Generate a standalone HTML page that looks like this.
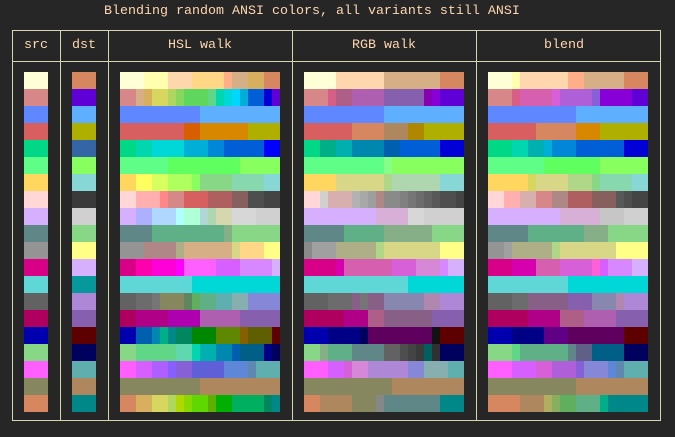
<!DOCTYPE html>
<html><head><meta charset="utf-8"><style>
html,body{margin:0;padding:0;background:#262626;width:675px;height:437px;overflow:hidden;position:relative;font-family:"Liberation Mono",monospace;font-size:13.33px;}
.t{position:absolute;color:#ffd7af;white-space:pre;}
.b{position:absolute;background:#d7d7af;}
.row{position:absolute;height:17px;display:flex;}
.row div{height:17px;}
</style></head><body>
<div class="t" style="left:104px;top:4px;">Blending random ANSI colors, all variants still ANSI</div>
<div class="b" style="left:12px;top:30px;width:649px;height:1px"></div>
<div class="b" style="left:12px;top:61px;width:649px;height:1px"></div>
<div class="b" style="left:12px;top:420px;width:649px;height:1px"></div>
<div class="b" style="left:12px;top:30px;width:1px;height:391px"></div>
<div class="b" style="left:60px;top:30px;width:1px;height:391px"></div>
<div class="b" style="left:108px;top:30px;width:1px;height:391px"></div>
<div class="b" style="left:292px;top:30px;width:1px;height:391px"></div>
<div class="b" style="left:476px;top:30px;width:1px;height:391px"></div>
<div class="b" style="left:660px;top:30px;width:1px;height:391px"></div>
<div class="t" style="left:24px;top:38px;">src</div>
<div class="t" style="left:72px;top:38px;">dst</div>
<div class="t" style="left:168px;top:38px;">HSL walk</div>
<div class="t" style="left:352px;top:38px;">RGB walk</div>
<div class="t" style="left:544px;top:38px;">blend</div>
<div id="g"></div>
<script>
var src="ffffd7 d78787 5f87ff d75f5f 00d787 5fff87 ffd75f ffd7d7 d7afff 5f8787 949494 d70087 5fd7d7 626262 af005f 0000af 87d787 ff5fff 87875f d7875f".split(" ");
var dst="d7875f 5f00d7 5fafff afaf00 3465a4 87ff5f 87d7d7 3a3a3a d0d0d0 87d787 ffff87 d7afff 06989a af87d7 875faf 5f0000 00005f 5fafaf af875f 008787".split(" ");
var H=["ffffd7:3 ffffaf:3 ffd7af:3 ffd787:4 ffaf87:1 d7af87:2 d7af5f:2 d7875f:2",
"d78787:2 d7af87:1 d7af5f:1 d7d75f:2 afd75f:1 87d75f:1 5fd75f:3 5fd787:1 00d7af:1 00d7d7:1 00d7ff:1 00afd7:1 005fd7:2 0000d7:1 5f00d7:1",
"5f87ff:10 5fafff:10",
"d75f5f:8 d75f00:2 d78700:6 afaf00:4",
"00d787:2 00d7af:2 00d7d7:4 00afd7:3 0087d7:2 005fd7:5 0000ff:2",
"5fff87:6 5fff5f:9 87ff5f:5",
"ffd75f:2 ffff5f:2 d7ff5f:2 afff5f:3 87ff5f:1 87d787:4 87d7af:4 87d7d7:2",
"ffd7d7:2 ffafaf:3 ff8787:1 d78787:2 d75f5f:3 af5f5f:3 875f5f:2 4e4e4e:2 444444:2",
"d7afff:2 afafff:2 afd7ff:3 afffff:1 afffd7:2 afd7d7:1 afd7af:1 d7d7af:2 d7d7d7:3 d0d0d0:3",
"5f8787:4 5faf87:9 87af87:1 87d787:6",
"949494:3 af8787:4 afaf87:1 d7af87:6 d7d787:1 ffd787:3 ffff87:2",
"d70087:2 ff00af:2 ff00d7:3 ff00ff:1 ff5fff:4 d75fff:3 d787ff:4 d7afff:1",
"5fd7d7:9 00d7d7:11",
"626262:2 6c6c6c:2 767676:1 87875f:3 5f875f:1 5faf5f:1 5faf87:2 5fafaf:2 87afaf:2 8787d7:4",
"af005f:2 af0087:4 af00af:4 af5faf:5 875faf:5",
"0000af:2 005faf:2 0087af:1 00af87:1 008787:1 00875f:2 008700:3 5f8700:3 875f00:1 5f5f00:3 5f0000:1",
"87d787:2 5fd787:5 5fd7af:2 00d7af:1 00afaf:2 0087af:2 005faf:1 005f87:3 000087:1 00005f:1",
"ff5fff:2 d75fff:2 af5fff:2 875fff:1 875fd7:2 5f5fd7:4 5f87d7:3 5f87af:1 5fafaf:3",
"87875f:10 af875f:10",
"d7875f:2 d7af5f:2 d7d75f:2 afd75f:1 afd700:1 87d700:1 5fd700:2 5faf00:1 00af00:2 00af5f:4 00875f:1 008787:1"];
var R=["ffffd7:4 ffd7af:6 d7af87:7 d7875f:3",
"d78787:3 d75f87:1 af5f87:2 af5faf:4 875faf:5 8700af:1 8700d7:1 5f00d7:3",
"5f87ff:10 5fafff:10",
"d75f5f:6 d7875f:4 af875f:3 af8700:2 afaf00:5",
"00d787:2 00af87:2 00afaf:2 0087af:4 005faf:2 005fd7:5 0000d7:3",
"5fff87:10 87ff87:1 87ff5f:9",
"ffd75f:4 d7d787:6 afd787:1 afd7af:6 87d7d7:3",
"ffd7d7:2 d0d0d0:1 d7afaf:3 b2b2b2:1 a8a8a8:1 9e9e9e:1 af8787:1 8a8a8a:2 808080:1 767676:1 6c6c6c:1 626262:1 585858:1 4e4e4e:2 444444:1",
"d7afff:9 d7afd7:4 d7d7d7:2 d0d0d0:5",
"5f8787:5 5faf87:5 87af87:6 87d787:4",
"8a8a8a:1 a0a0a0:3 afaf87:5 afd787:1 d7d787:7 ffff87:3",
"d70087:4 d700af:1 d75faf:6 d75fd7:3 d787d7:3 d787ff:1 d7afff:2",
"5fd7d7:13 00d7d7:7",
"626262:3 6c6c6c:3 875f87:1 767676:1 875f87:2 8787af:5 af87af:2 af87d7:3",
"af005f:5 af0087:3 af5f87:2 875f87:6 875faf:4",
"0000af:3 000087:4 00005f:1 5f005f:8 121212:1 5f0000:3",
"87d787:2 87af87:1 5faf87:3 5f8787:4 626262:2 4e4e4e:1 444444:1 3a3a3a:1 005f5f:1 303030:1 00005f:3",
"ff5fff:3 d75fff:2 d75fd7:1 d787d7:2 af87d7:5 8787d7:2 87afaf:3 5fafaf:2",
"87875f:11 af875f:9",
"d7875f:2 af875f:4 87875f:3 878787:1 5f8787:7 008787:3"];
var B=["ffffd7:3 ffffaf:1 ffd7af:6 ffaf87:2 d7af87:5 d7875f:3",
"d78787:3 d75f87:1 d75faf:4 d75fd7:1 af5fd7:4 875fd7:1 8700d7:4 5f00d7:2",
"5f87ff:11 5fafff:9",
"d75f5f:6 d7875f:5 d78700:3 afaf00:6",
"00d787:3 00d7af:2 00afaf:2 00afd7:1 0087d7:3 005fd7:6 0000d7:3",
"5fff87:7 5fff5f:7 87ff5f:6",
"ffd75f:5 d7d75f:1 d7d787:4 afd787:3 87d787:1 87d7af:4 87d7d7:2",
"ffd7d7:2 ffafaf:2 d7afaf:2 d78787:2 af8787:2 af5f5f:3 875f5f:3 585858:1 4e4e4e:1 444444:2",
"d7afff:9 d7afd7:5 c6c6c6:3 d0d0d0:3",
"5f8787:5 5faf87:7 87af87:3 87d787:5",
"949494:2 a0a0a0:1 afaf87:5 afd787:1 d7d787:7 ffff87:4",
"d70087:3 d700af:3 d75faf:3 d75fd7:4 ff5fd7:1 d75fff:1 d787ff:3 d7afff:2",
"5fd7d7:10 00d7d7:10",
"626262:3 6c6c6c:2 875f87:5 875faf:3 8787af:3 af87af:1 af87d7:3",
"af005f:5 af0087:4 af5f87:3 af5faf:4 875faf:4",
"0000af:3 000087:4 5f0087:3 5f005f:7 5f0000:3",
"87d787:3 5fd787:1 5faf87:6 5f8787:1 5f5f87:2 005f87:4 00005f:3",
"ff5fff:3 d75fff:3 d75fd7:2 af5fd7:3 875fd7:1 8787d7:3 5f87d7:1 5f87af:1 5fafaf:3",
"87875f:11 af875f:9",
"d7875f:4 af875f:3 afaf5f:1 87af5f:1 5faf5f:2 5faf87:3 00af87:1 008787:5"];
var h="";
function row(x,y,s){var o='<div class="row" style="left:'+x+'px;top:'+y+'px">';s.split(" ").forEach(function(p){var a=p.split(":");o+='<div style="width:'+(a[1]*8)+'px;background:#'+a[0]+'"></div>';});return o+'</div>';}
for(var i=0;i<20;i++){var y=72+i*17;
h+='<div style="position:absolute;left:24px;top:'+y+'px;width:24px;height:17px;background:#'+src[i]+'"></div>';
h+='<div style="position:absolute;left:72px;top:'+y+'px;width:24px;height:17px;background:#'+dst[i]+'"></div>';
h+=row(120,y,H[i])+row(304,y,R[i])+row(488,y,B[i]);}
document.getElementById("g").innerHTML=h;
</script>
</body></html>
